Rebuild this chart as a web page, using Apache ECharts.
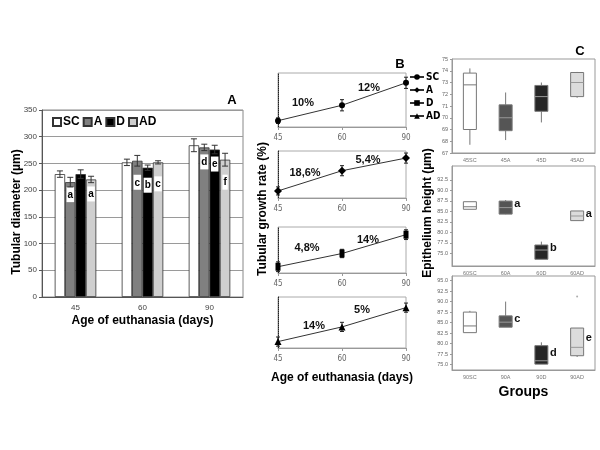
<!DOCTYPE html>
<html>
<head>
<meta charset="utf-8">
<script src="https://cdn.jsdelivr.net/npm/echarts@6/dist/echarts.min.js"></script>
<style>
    html, body { margin: 0; background: #fff; }
    #chart { width: 600px; height: 450px; }
</style>
</head>
<body>
<div id="chart"></div>
<script>
// ---- panel A: tubular diameter
const ages = ['45', '60', '90'];
const groups = ['SC', 'A', 'D', 'AD'];
const diamSC = [230, 252, 284];
const diamA = [215, 255, 280];
const diamD = [230, 242, 276];
const diamAD = [220, 252, 257];
const errSC = [6, 6, 12];
const errA = [9, 10, 6];
const errD = [8, 5, 8];
const errAD = [6, 3, 12];
const lettersA = ['a', 'c', 'd'];
const lettersD = ['', 'b', 'e'];
const lettersAD = ['a', 'c', 'f'];

// ---- panel B: growth per group (same days)
const growthSC = [230, 252, 284];
const growthA = [215, 255, 280];
const growthD = [230, 249, 276];
const growthAD = [220, 236, 257];
const growthErrSC = [4, 8, 8];
const growthErrA = [8, 10, 10];
const growthErrD = [7, 6, 7];
const growthErrAD = [5, 5, 5];
const growthRates = [['10%', '12%'], ['18,6%', '5,4%'], ['4,8%', '14%'], ['14%', '5%']];

// ---- panel C: epithelium height boxplots [min, q1, median, q3, max]
const box45 = [[67.7, 69.0, 72.8, 73.8, 74.2], [68.1, 68.9, 70.0, 71.1, 72.15],
               [69.6, 70.55, 71.8, 72.75, 73.0], [71.7, 71.8, 73.0, 73.85, 73.9]];
const box60 = [[85.5, 85.5, 86.1, 87.3, 87.3], [84.3, 84.35, 85.9, 87.45, 87.7],
               [73.6, 73.6, 75.8, 77.0, 77.8], [82.8, 82.8, 83.9, 85.1, 85.1]];
const box90 = [[82.6, 82.6, 84.2, 87.5, 87.8], [83.9, 83.9, 85.1, 86.6, 90.0],
               [75.1, 75.1, 75.9, 79.5, 80.3], [76.8, 77.1, 79.1, 83.7, 83.7]];
const outlier90 = [[3, 91.2]];
const letters45 = ['', '', '', ''];
const letters60 = ['', 'a', 'b', 'a'];
const letters90 = ['', 'c', 'd', 'e'];
const ticks60 = [75, 77.5, 80, 82.5, 85, 87.5, 90, 92.5];
const ticks90 = [75, 77.5, 80, 82.5, 85, 87.5, 90, 92.5, 95];

const FONT = 'Liberation Sans, Arial, sans-serif';
const NARROW = 'Liberation Sans Narrow, DejaVu Sans Condensed, sans-serif';
const barFill = ['#ffffff', '#808080', '#000000', '#cfcfcf'];
const boxFill = ['#ffffff', '#555555', '#262626', '#dcdcdc'];
const BAR_GAP = 0.38;

let chart = echarts.init(document.getElementById('chart'));

// error bars over grouped bars
function bar_err_render(k) {
    return function (params, api) {
        let i = api.value(0);
        let band = api.size([1, 0])[0];
        let bw = band * (1 - BAR_GAP) / 4;
        let x = api.coord([i, 0])[0] + (k - 1.5) * bw;
        let lo = api.coord([i, api.value(1)])[1];
        let hi = api.coord([i, api.value(2)])[1];
        let st = {stroke: '#333', lineWidth: 1};
        return {type: 'group', children: [
            {type: 'line', shape: {x1: x, y1: lo, x2: x, y2: hi}, style: st},
            {type: 'line', shape: {x1: x - 3, y1: lo, x2: x + 3, y2: lo}, style: st},
            {type: 'line', shape: {x1: x - 3, y1: hi, x2: x + 3, y2: hi}, style: st}
        ]};
    };
}

function line_err_render(params, api) {
    let i = api.value(0);
    let lo = api.coord([i, api.value(1)]);
    let hi = api.coord([i, api.value(2)]);
    let st = {stroke: '#222', lineWidth: 1};
    return {type: 'group', children: [
        {type: 'line', shape: {x1: lo[0], y1: lo[1], x2: hi[0], y2: hi[1]}, style: st},
        {type: 'line', shape: {x1: lo[0] - 2, y1: lo[1], x2: lo[0] + 2, y2: lo[1]}, style: st},
        {type: 'line', shape: {x1: hi[0] - 2, y1: hi[1], x2: hi[0] + 2, y2: hi[1]}, style: st}
    ]};
}

function box_render(letters) {
    return function (params, api) {
        let i = api.value(0);
        let x = api.coord([i, api.value(1)])[0];
        let yMin = api.coord([i, api.value(1)])[1];
        let yQ1 = api.coord([i, api.value(2)])[1];
        let yMed = api.coord([i, api.value(3)])[1];
        let yQ3 = api.coord([i, api.value(4)])[1];
        let yMax = api.coord([i, api.value(5)])[1];
        let w = 13;
        let st = {stroke: '#777', lineWidth: 1};
        let kids = [
            {type: 'line', shape: {x1: x, y1: yMin, x2: x, y2: yQ1}, style: st},
            {type: 'line', shape: {x1: x, y1: yQ3, x2: x, y2: yMax}, style: st},
            {type: 'rect', shape: {x: x - w / 2, y: yQ3, width: w, height: yQ1 - yQ3},
                style: {fill: boxFill[i], stroke: '#777', lineWidth: 1}},
            {type: 'line', shape: {x1: x - w / 2, y1: yMed, x2: x + w / 2, y2: yMed},
                style: {stroke: i === 0 ? '#777' : '#999', lineWidth: 1}}
        ];
        if (letters[i]) {
            kids.push({type: 'text', x: x + w / 2 + 2, y: (yQ3 + yMed) / 2,
                style: {text: letters[i], fill: '#111', font: 'bold 11px ' + FONT,
                    textAlign: 'left', textVerticalAlign: 'middle'}});
        }
        return {type: 'group', children: kids};
    };
}

function bar_series(name, k, values, letters, dists) {
    return {
        name: name, type: 'bar', xAxisIndex: 0, yAxisIndex: 0,
        barGap: 0, barCategoryGap: (BAR_GAP * 100) + '%',
        itemStyle: {color: barFill[k], borderColor: '#333', borderWidth: 0.8},
        label: {
            show: true, position: 'insideTop', color: '#000',
            backgroundColor: '#fff', padding: [3, 1, 2, 1],
            fontSize: 10, fontWeight: 'bold', fontFamily: FONT,
            formatter: p => letters[p.dataIndex]
        },
        data: values.map((v, i) => ({
            value: v,
            label: {show: !!letters[i], distance: dists[i]}
        }))
    };
}

function bar_err_series(k, values, errs) {
    return {
        type: 'custom', xAxisIndex: 0, yAxisIndex: 0, z: 5,
        renderItem: bar_err_render(k), silent: true,
        data: values.map((v, i) => [i, v - errs[i], v + errs[i]])
    };
}

let bNames = ['B-SC', 'B-A', 'B-D', 'B-AD'];
let bValues = [growthSC, growthA, growthD, growthAD];
let bErrs = [growthErrSC, growthErrA, growthErrD, growthErrAD];
let bSymbols = [['circle', 6], ['diamond', 8], ['rect', [5, 8]], ['triangle', 7]];
let bTops = [73, 151, 227, 297];
let bHeights = [54, 47, 46, 51];
let bRanges = [[221, 298], [201, 294], [221, 287], [213, 268.6]];

let cTops = [59, 166, 276];
let cHeights = [94, 100, 94];
let cRanges = [[67, 75], [72, 95.8], [73.7, 96.1]];
let cData = [box45, box60, box90];
let cLetters = [letters45, letters60, letters90];
let cDays = ['45', '60', '90'];

let grids = [{left: 42, top: 110, width: 201, height: 187, show: true, borderColor: '#888', borderWidth: 1}];
let xAxes = [{
    type: 'category', gridIndex: 0, data: ages,
    name: 'Age of euthanasia (days)', nameLocation: 'middle', nameGap: 18,
    nameTextStyle: {fontSize: 12, fontWeight: 'bold', color: '#000', fontFamily: FONT},
    axisLine: {lineStyle: {color: '#555'}},
    axisTick: {length: 3, lineStyle: {color: '#555'}},
    axisLabel: {fontSize: 8, color: '#444', margin: 7, fontFamily: FONT}
}];
let yAxes = [{
    type: 'value', gridIndex: 0, min: 0, max: 350, interval: 50,
    axisLine: {show: true, lineStyle: {color: '#555'}},
    axisTick: {show: true, length: 3, lineStyle: {color: '#555'}},
    axisLabel: {fontSize: 8, color: '#444', margin: 5, fontFamily: FONT},
    splitLine: {lineStyle: {color: '#9a9a9a'}}
}];

let series = [
    bar_series('SC', 0, diamSC, ['', '', ''], [0, 0, 0]),
    bar_series('A', 1, diamA, lettersA, [5, 14, 7]),
    bar_series('D', 2, diamD, lettersD, [0, 10, 7]),
    bar_series('AD', 3, diamAD, lettersAD, [7, 14, 15]),
    bar_err_series(0, diamSC, errSC),
    bar_err_series(1, diamA, errA),
    bar_err_series(2, diamD, errD),
    bar_err_series(3, diamAD, errAD)
];

let graphics = [
    {type: 'text', x: 232, y: 100, style: {text: 'A', font: 'bold 13px ' + FONT, fill: '#000', textAlign: 'center', textVerticalAlign: 'middle'}},
    {type: 'text', x: 400, y: 64, style: {text: 'B', font: 'bold 13px ' + FONT, fill: '#000', textAlign: 'center', textVerticalAlign: 'middle'}},
    {type: 'text', x: 580, y: 51, style: {text: 'C', font: 'bold 13px ' + FONT, fill: '#000', textAlign: 'center', textVerticalAlign: 'middle'}},
    {type: 'text', x: 17, y: 212, rotation: Math.PI / 2,
        style: {text: 'Tubular diameter (µm)', font: 'bold 12px ' + FONT, fill: '#000', textAlign: 'center', textVerticalAlign: 'middle'}},
    {type: 'text', x: 263, y: 209, rotation: Math.PI / 2,
        style: {text: 'Tubular growth rate (%)', font: 'bold 12px ' + FONT, fill: '#000', textAlign: 'center', textVerticalAlign: 'middle'}},
    {type: 'text', x: 428, y: 213, rotation: Math.PI / 2,
        style: {text: 'Epithelium height (µm)', font: 'bold 12px ' + FONT, fill: '#000', textAlign: 'center', textVerticalAlign: 'middle'}}
];

// growth-rate annotations, placed between the points of each small chart
let ratePos = [[[303, 103], [369, 88]], [[305, 173], [368, 160]], [[307, 248], [368, 240]], [[314, 326], [362, 310]]];

for (let g = 0; g < 4; g++) {
    let gi = 1 + g;
    grids.push({left: 278, width: 128, top: bTops[g], height: bHeights[g], show: true, borderColor: '#aaa', borderWidth: 1});
    let xa = {
        type: 'category', gridIndex: gi, data: ages, boundaryGap: false,
        axisLine: {lineStyle: {color: '#999'}},
        axisTick: {length: 3, lineStyle: {color: '#999'}},
        axisLabel: {fontSize: 8, color: '#666', margin: 7, fontFamily: NARROW}
    };
    if (g === 3) {
        xa.name = 'Age of euthanasia (days)';
        xa.nameLocation = 'middle';
        xa.nameGap = 24;
        xa.nameTextStyle = {fontSize: 12, fontWeight: 'bold', color: '#000', fontFamily: FONT};
    }
    xAxes.push(xa);
    yAxes.push({
        type: 'value', gridIndex: gi, min: bRanges[g][0], max: bRanges[g][1],
        axisLine: {show: true, lineStyle: {color: '#222', type: 'dotted'}},
        axisTick: {show: false}, axisLabel: {show: false}, splitLine: {show: false}
    });
    series.push({
        name: bNames[g], type: 'line', xAxisIndex: gi, yAxisIndex: gi,
        symbol: bSymbols[g][0], symbolSize: bSymbols[g][1],
        itemStyle: {color: '#000'}, lineStyle: {color: '#333', width: 1},
        data: bValues[g], z: 4
    });
    series.push({
        type: 'custom', xAxisIndex: gi, yAxisIndex: gi, silent: true,
        renderItem: line_err_render,
        data: bValues[g].map((v, i) => [i, v - bErrs[g][i], v + bErrs[g][i]])
    });
    for (let r = 0; r < 2; r++) {
        graphics.push({type: 'text', x: ratePos[g][r][0], y: ratePos[g][r][1],
            style: {text: growthRates[g][r], font: 'bold 11px ' + FONT, fill: '#111',
                textAlign: 'center', textVerticalAlign: 'middle'}});
    }
}

for (let c = 0; c < 3; c++) {
    let gi = 5 + c;
    grids.push({left: 452, width: 143, top: cTops[c], height: cHeights[c], show: true, borderColor: '#999', borderWidth: 1});
    let xa = {
        type: 'category', gridIndex: gi, data: groups.map(s => cDays[c] + s),
        axisLine: {lineStyle: {color: '#999'}},
        axisTick: {alignWithLabel: true, length: 2, lineStyle: {color: '#999'}},
        axisLabel: {fontSize: 5.5, color: '#777', margin: 4, fontFamily: FONT}
    };
    if (c === 2) {
        xa.name = 'Groups';
        xa.nameLocation = 'middle';
        xa.nameGap = 15;
        xa.nameTextStyle = {fontSize: 14, fontWeight: 'bold', color: '#000', fontFamily: FONT};
    }
    xAxes.push(xa);
    let ya = {
        type: 'value', gridIndex: gi, min: cRanges[c][0], max: cRanges[c][1],
        axisLine: {show: true, lineStyle: {color: '#999'}},
        axisTick: {show: true, length: 2, lineStyle: {color: '#999'}},
        axisLabel: {fontSize: 5.5, color: '#666', margin: 4, fontFamily: FONT},
        splitLine: {show: false}
    };
    if (c === 0) {
        ya.interval = 1;
    } else {
        let tv = c === 1 ? ticks60 : ticks90;
        ya.axisTick.customValues = tv;
        ya.axisLabel.customValues = tv;
        ya.axisLabel.formatter = v => v.toFixed(1);
    }
    yAxes.push(ya);
    series.push({
        type: 'custom', xAxisIndex: gi, yAxisIndex: gi, silent: true,
        renderItem: box_render(cLetters[c]),
        encode: {x: 0, y: [1, 2, 3, 4, 5]},
        data: cData[c].map((b, i) => [i].concat(b))
    });
}
series.push({
    type: 'scatter', xAxisIndex: 7, yAxisIndex: 7, symbolSize: 2,
    itemStyle: {color: '#999'}, data: outlier90, silent: true
});

let options = {
    animation: false,
    textStyle: {fontFamily: FONT},
    legend: [
        {
            data: groups, left: 52, top: 116, padding: 0, itemGap: 3,
            itemWidth: 8, itemHeight: 8, icon: 'rect',
            textStyle: {fontSize: 12, fontWeight: 'bold', color: '#000', fontFamily: FONT, padding: [0, 0, 0, -3]}
        },
        {
            data: bNames, left: 409, top: 72, orient: 'vertical', padding: 0, itemGap: 3,
            itemWidth: 14, itemHeight: 7,
            formatter: n => n.replace('B-', ''),
            textStyle: {fontSize: 10, fontWeight: 'bold', color: '#000', fontFamily: NARROW, padding: [0, 0, 0, -3]}
        }
    ],
    grid: grids,
    xAxis: xAxes,
    yAxis: yAxes,
    series: series,
    graphic: graphics
};

chart.setOption(options);
</script>
</body>
</html>
